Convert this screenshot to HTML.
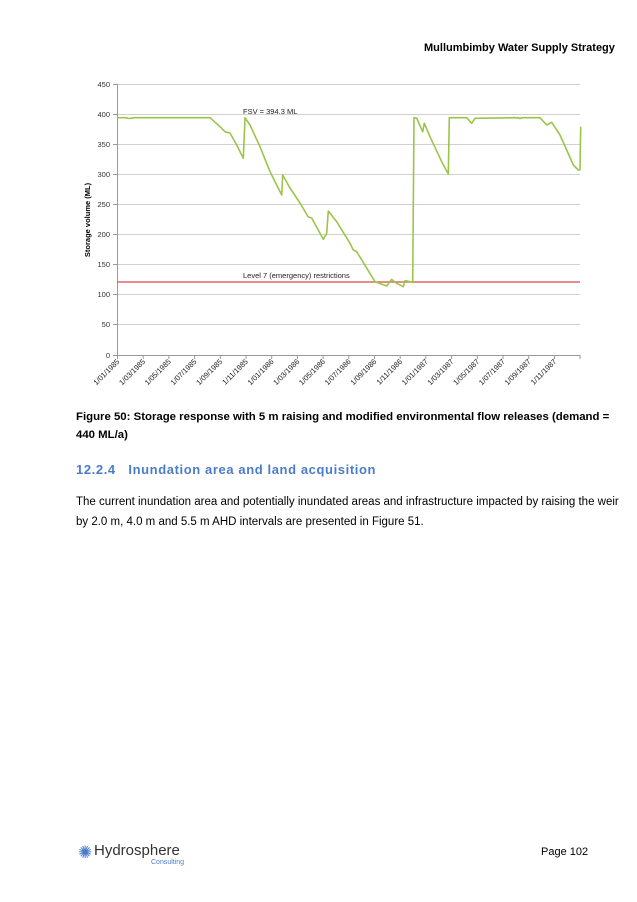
<!DOCTYPE html>
<html><head><meta charset="utf-8"><style>
body{margin:0;width:637px;height:902px;background:#fff;font-family:"Liberation Sans",sans-serif;position:relative;overflow:hidden}
.a{position:absolute;white-space:nowrap}
</style></head><body>
<div class="a" style="left:424px;top:42px;font-size:11px;font-weight:bold;color:#000">Mullumbimby Water Supply Strategy</div>
<svg class="a" style="left:0;top:0" width="637" height="480" font-family="Liberation Sans, sans-serif">
<g stroke="#d0d0d0" stroke-width="1">
<line x1="117" x2="580" y1="84.5" y2="84.5"/><line x1="117" x2="580" y1="114.5" y2="114.5"/>
<line x1="117" x2="580" y1="144.5" y2="144.5"/><line x1="117" x2="580" y1="174.5" y2="174.5"/>
<line x1="117" x2="580" y1="204.5" y2="204.5"/><line x1="117" x2="580" y1="234.5" y2="234.5"/>
<line x1="117" x2="580" y1="264.5" y2="264.5"/><line x1="117" x2="580" y1="294.5" y2="294.5"/>
<line x1="117" x2="580" y1="324.5" y2="324.5"/>
</g>
<g stroke="#999" stroke-width="1">
<line x1="117.5" x2="117.5" y1="84" y2="355"/><line x1="113" x2="580" y1="355.5" y2="355.5"/>
<line x1="113" x2="117" y1="84.5" y2="84.5"/><line x1="113" x2="117" y1="114.5" y2="114.5"/><line x1="113" x2="117" y1="144.5" y2="144.5"/><line x1="113" x2="117" y1="174.5" y2="174.5"/><line x1="113" x2="117" y1="204.5" y2="204.5"/><line x1="113" x2="117" y1="234.5" y2="234.5"/><line x1="113" x2="117" y1="264.5" y2="264.5"/><line x1="113" x2="117" y1="294.5" y2="294.5"/><line x1="113" x2="117" y1="324.5" y2="324.5"/>
</g>
<g font-size="7.5" fill="#333" text-anchor="end">
<text x="110" y="87">450</text><text x="110" y="117">400</text><text x="110" y="147">350</text><text x="110" y="177">300</text><text x="110" y="207">250</text><text x="110" y="237">200</text><text x="110" y="267">150</text><text x="110" y="297">100</text><text x="110" y="327">50</text><text x="110" y="358">0</text>
</g>
<text transform="translate(90,220) rotate(-90)" font-size="7.5" font-weight="bold" text-anchor="middle" fill="#000">Storage volume (ML)</text>
<line x1="117" x2="580" y1="282" y2="282" stroke="#e06666" stroke-width="1.6"/>
<text x="243" y="278" font-size="7.5" fill="#222">Level 7 (emergency) restrictions</text>
<text x="243" y="114" font-size="7.5" fill="#222">FSV = 394.3 ML</text>
<polyline fill="none" stroke="#9bc54a" stroke-width="1.6" stroke-linejoin="round" points="117,117.7 125,117.7 130,118.5 134,117.7 210,117.7 220,126.7 225,131.7 230,133 236.7,145 243.3,158.3 245,117.7 250,125 260,146.7 270,171.7 281.7,195 282.7,175 290,188 300,203 308.3,217 311.7,218 323.3,239.3 326.7,233.3 328.3,211 336.7,221.7 350,243.3 353.3,250 356.7,251.7 375,281.7 386.7,286 391.7,279.3 395,282.3 403.3,286.7 405,280.7 412.7,282.3 414,117.7 416.7,118.3 422.7,131.7 424.3,123.3 430,136.7 441.7,161.7 448.3,174 449.3,117.7 466.7,117.7 471.7,123.3 475,118.3 518.3,117.7 520,118.7 521.7,117.7 540,117.7 546.7,125 551.7,122.3 560,135 566.7,150 573.3,165 578.3,170 580,170 580.7,126.7"/>
<g stroke="#999">
<line x1="117.5" x2="117.5" y1="355" y2="359"/><line x1="143.2" x2="143.2" y1="355" y2="359"/><line x1="168.9" x2="168.9" y1="355" y2="359"/><line x1="194.6" x2="194.6" y1="355" y2="359"/><line x1="220.3" x2="220.3" y1="355" y2="359"/><line x1="246" x2="246" y1="355" y2="359"/><line x1="271.7" x2="271.7" y1="355" y2="359"/><line x1="297.4" x2="297.4" y1="355" y2="359"/><line x1="323.1" x2="323.1" y1="355" y2="359"/><line x1="348.8" x2="348.8" y1="355" y2="359"/><line x1="374.5" x2="374.5" y1="355" y2="359"/><line x1="400.2" x2="400.2" y1="355" y2="359"/><line x1="425.9" x2="425.9" y1="355" y2="359"/><line x1="451.6" x2="451.6" y1="355" y2="359"/><line x1="477.3" x2="477.3" y1="355" y2="359"/><line x1="503" x2="503" y1="355" y2="359"/><line x1="528.7" x2="528.7" y1="355" y2="359"/><line x1="554.4" x2="554.4" y1="355" y2="359"/><line x1="580" x2="580" y1="355" y2="359"/>
</g>
<g font-size="7.5" fill="#222" text-anchor="end">
<text transform="translate(120,362) rotate(-45)">1/01/1985</text>
<text transform="translate(145.7,362) rotate(-45)">1/03/1985</text>
<text transform="translate(171.4,362) rotate(-45)">1/05/1985</text>
<text transform="translate(197.1,362) rotate(-45)">1/07/1985</text>
<text transform="translate(222.8,362) rotate(-45)">1/09/1985</text>
<text transform="translate(248.5,362) rotate(-45)">1/11/1985</text>
<text transform="translate(274.2,362) rotate(-45)">1/01/1986</text>
<text transform="translate(299.9,362) rotate(-45)">1/03/1986</text>
<text transform="translate(325.6,362) rotate(-45)">1/05/1986</text>
<text transform="translate(351.3,362) rotate(-45)">1/07/1986</text>
<text transform="translate(377,362) rotate(-45)">1/09/1986</text>
<text transform="translate(402.7,362) rotate(-45)">1/11/1986</text>
<text transform="translate(428.4,362) rotate(-45)">1/01/1987</text>
<text transform="translate(454.1,362) rotate(-45)">1/03/1987</text>
<text transform="translate(479.8,362) rotate(-45)">1/05/1987</text>
<text transform="translate(505.5,362) rotate(-45)">1/07/1987</text>
<text transform="translate(531.2,362) rotate(-45)">1/09/1987</text>
<text transform="translate(556.9,362) rotate(-45)">1/11/1987</text>
</g>
</svg>
<div class="a" style="left:76px;top:408px;font-size:11.4px;font-weight:bold;color:#000;line-height:18px">Figure 50: Storage response with 5 m raising and modified environmental flow releases (demand =<br>440 ML/a)</div>
<div class="a" style="left:76px;top:462px;font-size:13px;font-weight:bold;color:#4a7cc9;letter-spacing:0.6px">12.2.4&nbsp;&nbsp;&nbsp;Inundation area and land acquisition</div>
<div class="a" style="left:76px;top:492px;font-size:11.5px;color:#000;line-height:20px">The current inundation area and potentially inundated areas and infrastructure impacted by raising the weir<br>by 2.0 m, 4.0 m and 5.5 m AHD intervals are presented in Figure 51.</div>
<div class="a" style="left:78px;top:843px;font-size:17px;color:#4a7cc9">✺</div>
<div class="a" style="left:94px;top:842px;font-size:15px;color:#333">Hydrosphere</div>
<div class="a" style="left:151px;top:859px;font-size:7px;color:#4a7cc9">Consulting</div>
<div class="a" style="left:541px;top:846px;font-size:11px;color:#000">Page 102</div>
</body></html>
